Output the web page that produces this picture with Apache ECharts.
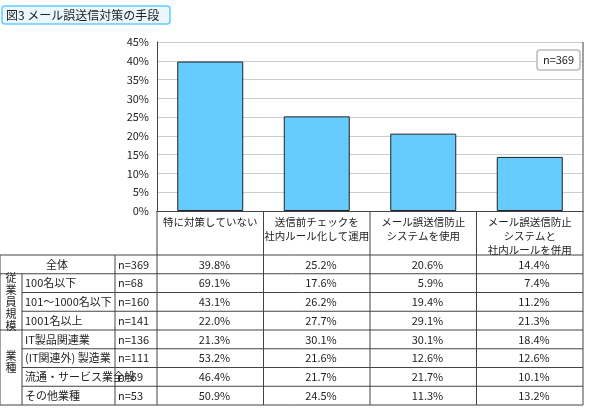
<!DOCTYPE html><html><head><meta charset="utf-8"><script src="https://cdn.jsdelivr.net/npm/echarts@6/dist/echarts.min.js"></script>
<style>html,body{margin:0;padding:0;background:#fff}#c{width:590px;height:417px}</style></head><body><div id="c"></div><script>
const categories=['特に対策していない','送信前チェックを\n社内ルール化して運用','メール誤送信防止\nシステムを使用','メール誤送信防止\nシステムと\n社内ルールを併用'];
const overall=[39.8,25.2,20.6,14.4];
const yTicks=[0,5,10,15,20,25,30,35,40,45];
const rowNames=['全体','100名以下','101～1000名以下','1001名以上','IT製品関連業','(IT関連外) 製造業','流通・サービス業全般','その他業種'];
const rowN=['n=369','n=68','n=160','n=141','n=136','n=111','n=69','n=53'];
const rowVals=[[39.8,25.2,20.6,14.4],[69.1,17.6,5.9,7.4],[43.1,26.2,19.4,11.2],[22.0,27.7,29.1,21.3],[21.3,30.1,30.1,18.4],[53.2,21.6,12.6,12.6],[46.4,21.7,21.7,10.1],[50.9,24.5,11.3,13.2]];
const groups=[{name:'従\n業\n員\n規\n模',from:1,to:3},{name:'業\n種',from:4,to:7}];
const F='"Noto Sans CJK JP",sans-serif';
const ch=echarts.init(document.getElementById('c'));
ch.setOption({animation:false,
grid:{left:157,right:7,top:42,bottom:206},
xAxis:{type:'category',data:categories,axisTick:{show:false},axisLine:{lineStyle:{color:'#444'}},
 axisLabel:{color:'#222',fontSize:10.5,fontFamily:F,lineHeight:14,margin:4,verticalAlign:'top',interval:0}},
yAxis:{type:'value',min:0,max:45,interval:5,axisLabel:{formatter:'{value}%',color:'#222',fontSize:11,fontFamily:F},
 axisLine:{show:true,lineStyle:{color:'#444'}},axisTick:{show:false},splitLine:{lineStyle:{color:'#ccc'}}},
series:[{type:'bar',data:overall,barWidth:66,itemStyle:{color:'#66ccff',borderColor:'#222',borderWidth:1}}]});
const top0=ch.convertToPixel({yAxisIndex:0},45),bot=ch.convertToPixel({yAxisIndex:0},0);
const cx=categories.map((c,i)=>ch.convertToPixel({xAxisIndex:0},i));
const band=cx[1]-cx[0];const L=157,R=cx[3]+band/2;
const tTop=255,rh=18.75;
const g=[];
const line=(x1,y1,x2,y2)=>g.push({type:'line',shape:{x1,y1,x2,y2},style:{stroke:'#444',lineWidth:1}});
const txt=(x,y,t,align,extra)=>g.push({type:'text',x,y,style:Object.assign({text:t,fill:'#222',font:'11px '+F,textAlign:align,textVerticalAlign:'middle'},extra||{})});
// right border of plot
line(R,top0,R,tTop+8*rh);
for(let i=1;i<4;i++){line(cx[i]-band/2,bot,cx[i]-band/2,tTop+8*rh);}
line(L,bot,L,tTop+8*rh);
line(0,tTop,R,tTop);line(0,tTop,0,tTop+8*rh);line(115,tTop,115,tTop+8*rh);line(22,tTop+rh,22,tTop+8*rh);
for(let r=1;r<=8;r++){const full=(r===1||r===4||r===8);line(full?0:22,tTop+r*rh,R,tTop+r*rh);}
rowNames.forEach((n,r)=>{const y=tTop+r*rh+rh/2;
 if(r===0)txt(57,y,n,'center');else txt(25,y,n,'left');
 txt(118,y,rowN[r],'left');
 rowVals[r].forEach((v,i)=>txt(cx[i]+20,y,v.toFixed(1)+'%','right'));});
groups.forEach(gr=>{const y0=tTop+gr.from*rh;const h=(gr.to-gr.from+1)*rh;
 g.push({type:'text',x:11,y:gr.name.length>4?y0+h/2:y0+h/2-6,style:{text:gr.name,fill:'#222',font:'11px '+F,textAlign:'center',textVerticalAlign:'middle',lineHeight:12}});});
// title box
g.push({type:'rect',shape:{x:2,y:6,width:168,height:18,r:3},style:{fill:'#eaf7fd',stroke:'#66ccff',lineWidth:1.5}});
g.push({type:'text',x:6,y:15,style:{text:'図3 メール誤送信対策の手段',fill:'#222',font:'12px '+F,textVerticalAlign:'middle'}});
g.push({type:'rect',shape:{x:537,y:50,width:43,height:20,r:3},style:{fill:'#fff',stroke:'#bbb',lineWidth:1.5}});
g.push({type:'text',x:558.5,y:60,style:{text:'n=369',fill:'#222',font:'11px '+F,textAlign:'center',textVerticalAlign:'middle'}});
ch.setOption({graphic:g});
</script></body></html>
